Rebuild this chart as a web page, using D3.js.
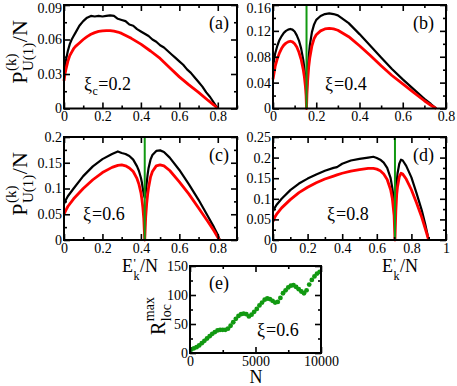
<!DOCTYPE html>
<html><head><meta charset="utf-8">
<script src="https://cdn.jsdelivr.net/npm/d3@7"></script>
<style>
body{margin:0;background:#fff;}
svg{display:block;}
</style></head>
<body>
<svg id="chart" width="457" height="386" font-family="'Times New Roman', Times, 'Liberation Serif', 'DejaVu Serif', serif"></svg>
<script>
const FONT = "'Times New Roman', Times, 'Liberation Serif', 'DejaVu Serif', serif";
// ---------- DATA ----------
// Panel (a)  xi_c = 0.2
const aBlackE = [0,0.01,0.02,0.03,0.04,0.05,0.06,0.08,0.1,0.12,0.14,0.16,0.18,0.2,0.22,0.24,0.26,0.28,0.3,0.32,0.34,0.36,0.38,0.4,0.42,0.44,0.46,0.48,0.5,0.52,0.54,0.56,0.58,0.6,0.62,0.64,0.66,0.68,0.7,0.72,0.74,0.76,0.78,0.8];
const aBlackP = [0.03,0.042,0.05,0.056,0.06,0.063,0.066,0.072,0.076,0.079,0.0805,0.080,0.0805,0.080,0.0805,0.081,0.0805,0.078,0.077,0.076,0.073,0.072,0.069,0.067,0.065,0.063,0.060,0.058,0.055,0.053,0.050,0.047,0.044,0.041,0.038,0.034,0.031,0.027,0.023,0.019,0.014,0.010,0.005,0];
const aRedE = [0,0.005,0.01,0.02,0.03,0.04,0.05,0.06,0.08,0.1,0.12,0.14,0.16,0.18,0.2,0.22,0.24,0.26,0.28,0.3,0.35,0.4,0.45,0.5,0.55,0.6,0.65,0.7,0.75,0.78,0.8];
const aRedP = [0.024,0.03,0.034,0.041,0.046,0.049,0.052,0.054,0.057,0.060,0.0625,0.0645,0.066,0.067,0.0675,0.0678,0.0678,0.0672,0.0665,0.0653,0.061,0.056,0.050,0.0435,0.0355,0.0275,0.0205,0.014,0.007,0.003,0];
// Panel (b)  xi = 0.4
const bE = [0,0.01,0.02,0.03,0.04,0.05,0.06,0.07,0.08,0.09,0.1,0.11,0.12,0.13,0.14,0.145,0.15,0.153,0.155,0.157,0.16,0.165,0.17,0.18,0.19,0.2,0.22,0.24,0.26,0.28,0.3,0.35,0.4,0.45,0.5,0.55,0.6,0.65,0.7,0.73,0.755];
const bBlackP = [0.065,0.085,0.097,0.106,0.112,0.117,0.12,0.122,0.123,0.122,0.119,0.113,0.105,0.093,0.075,0.062,0.045,0.028,0.005,0.03,0.055,0.08,0.097,0.118,0.13,0.137,0.143,0.146,0.147,0.146,0.144,0.132,0.115,0.097,0.079,0.061,0.045,0.03,0.015,0.007,0];
const bRedP = [0.045,0.065,0.077,0.086,0.093,0.098,0.101,0.103,0.104,0.103,0.1,0.095,0.087,0.076,0.06,0.049,0.034,0.02,0,0.022,0.042,0.064,0.078,0.097,0.108,0.114,0.12,0.123,0.124,0.123,0.121,0.111,0.097,0.082,0.066,0.051,0.038,0.025,0.012,0.005,0];
// Panel (c)  xi = 0.6
const cE = [0,0.01,0.02,0.05,0.1,0.15,0.2,0.25,0.28,0.3,0.32,0.34,0.36,0.38,0.39,0.4,0.405,0.41,0.415,0.42,0.425,0.43,0.435,0.44,0.45,0.46,0.48,0.5,0.52,0.55,0.6,0.65,0.7,0.75,0.78,0.8,0.81];
const cBlackP = [0.07,0.078,0.085,0.1,0.124,0.143,0.157,0.167,0.172,0.169,0.167,0.163,0.156,0.143,0.134,0.121,0.112,0.1,0.088,0.082,0.092,0.11,0.127,0.14,0.156,0.165,0.173,0.174,0.171,0.16,0.136,0.108,0.078,0.045,0.025,0.01,0];
const cRedP = [0.05,0.058,0.065,0.08,0.1,0.117,0.131,0.141,0.145,0.146,0.144,0.14,0.133,0.119,0.108,0.092,0.08,0.064,0.042,0,0.045,0.07,0.088,0.102,0.122,0.133,0.144,0.146,0.144,0.135,0.113,0.089,0.062,0.035,0.018,0.005,0];
// Panel (d)  xi = 0.8
const dE = [0,0.01,0.02,0.05,0.1,0.15,0.2,0.25,0.3,0.35,0.37,0.4,0.45,0.5,0.55,0.58,0.6,0.62,0.64,0.66,0.68,0.69,0.7,0.705,0.71,0.715,0.72,0.73,0.74,0.75,0.77,0.8,0.83,0.86,0.88,0.9];
const dBlackP = [0.07,0.078,0.085,0.1,0.121,0.137,0.149,0.159,0.168,0.175,0.177,0.185,0.193,0.197,0.2,0.202,0.199,0.195,0.188,0.175,0.15,0.125,0.095,0.08,0.11,0.14,0.162,0.185,0.195,0.193,0.18,0.152,0.113,0.072,0.038,0];
const dRedP = [0.045,0.055,0.062,0.078,0.098,0.115,0.128,0.139,0.148,0.155,0.158,0.162,0.167,0.171,0.174,0.174,0.172,0.168,0.16,0.147,0.122,0.1,0.06,0,0.07,0.11,0.13,0.153,0.162,0.16,0.148,0.122,0.09,0.055,0.028,0];
// Panel (e)  R_loc^max vs N, xi = 0.6
const eN = [100,300,500,700,900,1100,1300,1500,1700,1900,2100,2300,2500,2700,2900,3100,3300,3500,3700,3900,4100,4300,4500,4700,4900,5100,5300,5500,5700,5900,6100,6300,6500,6700,6900,7100,7300,7500,7700,7900,8100,8300,8500,8700,8900,9100,9300,9500,9700,9900];
const eR = [6,8,10,13,17,21,25,29,33,36,39,40,40,40,42,47,53,59,64,67,68,67,63,66,71,76,82,87,92,94,93,90,87,88,95,103,108,113,116,117,114,110,106,103,108,118,126,132,137,140];
// Critical energies (green lines)
const bCrit = 0.155, cCrit = 0.42, dCrit = 0.705;
// Tick values
const aXTicks = [0,0.2,0.4,0.6,0.8], aXMinor = [0.1,0.3,0.5,0.7,0.9];
const aYTicks = [0,0.03,0.06,0.09], aYMinor = [0.015,0.045,0.075];
const bXTicks = [0,0.2,0.4,0.6,0.8], bXMinor = [0.1,0.3,0.5,0.7];
const bYTicks = [0,0.04,0.08,0.12,0.16], bYMinor = [0.02,0.06,0.1,0.14];
const cXTicks = aXTicks, cXMinor = aXMinor;
const cYTicks = [0,0.05,0.1,0.15,0.2], cYMinor = [0.025,0.075,0.125,0.175];
const dXTicks = [0,0.2,0.4,0.6,0.8,1], dXMinor = [0.1,0.3,0.5,0.7,0.9];
const dYTicks = [0,0.05,0.1,0.15,0.2,0.25], dYMinor = [0.025,0.075,0.125,0.175,0.225];
const eXTicks = [0,5000,10000], eXMinor = [2500,7500];
const eYTicks = [0,50,100,150], eYMinor = [25,75,125];

// ---------- DRAW ----------
const svg = d3.select("#chart");
const GREEN = "#119911";

function panel(o){
  const x = d3.scaleLinear().domain(o.xd).range([o.l,o.r]);
  const y = d3.scaleLinear().domain(o.yd).range([o.b,o.t]);
  const g = svg.append("g");
  const line = d3.line().x(d=>x(d[0])).y(d=>y(d[1]));
  (o.series||[]).forEach(s=>{
    g.append("path").datum(d3.zip(s.x,s.y)).attr("d",line)
      .attr("fill","none").attr("stroke",s.color).attr("stroke-width",s.w)
      .attr("stroke-linejoin","round");
  });
  if(o.dots){
    g.selectAll("circle.dot").data(d3.zip(o.dots.x,o.dots.y)).join("circle")
      .attr("cx",d=>x(d[0])).attr("cy",d=>y(d[1])).attr("r",2.4).attr("fill",GREEN);
  }
  if(o.crit!==undefined){
    g.append("line").attr("x1",x(o.crit)).attr("x2",x(o.crit))
      .attr("y1",y(o.yd[0])).attr("y2",y(o.yd[1]))
      .attr("stroke",GREEN).attr("stroke-width",2);
  }
  const fmt = d=>String(d);
  const style = (sel)=>{sel.select(".domain").remove();
    sel.attr("font-family",FONT).attr("font-size",14);
    sel.selectAll("line").attr("stroke","#000").attr("stroke-width",1.6);
    sel.selectAll("text").attr("fill","#000");};
  g.append("g").attr("transform",`translate(0,${o.b})`)
    .call(d3.axisBottom(x).tickValues(o.xt).tickFormat(fmt).tickSize(-6).tickPadding(3)).call(style);
  const yl = g.append("g").attr("transform",`translate(${o.l},0)`)
    .call(d3.axisLeft(y).tickValues(o.yt).tickFormat(fmt).tickSize(-6).tickPadding(2)).call(style);
  yl.selectAll(".tick text").filter(d=>d===o.yd[1] && o.t<10).attr("dy","0.5em");
  g.append("g").attr("transform",`translate(0,${o.t})`)
    .call(d3.axisTop(x).tickValues(o.xt).tickFormat("").tickSize(-6)).call(style);
  g.append("g").attr("transform",`translate(${o.r},0)`)
    .call(d3.axisRight(y).tickValues(o.yt).tickFormat("").tickSize(-6)).call(style);
  g.append("g").attr("transform",`translate(0,${o.b})`)
    .call(d3.axisBottom(x).tickValues(o.xm).tickFormat("").tickSize(-3)).call(style);
  g.append("g").attr("transform",`translate(${o.l},0)`)
    .call(d3.axisLeft(y).tickValues(o.ym).tickFormat("").tickSize(-3)).call(style);
  g.append("g").attr("transform",`translate(0,${o.t})`)
    .call(d3.axisTop(x).tickValues(o.xm).tickFormat("").tickSize(-3)).call(style);
  g.append("g").attr("transform",`translate(${o.r},0)`)
    .call(d3.axisRight(y).tickValues(o.ym).tickFormat("").tickSize(-3)).call(style);
  g.selectAll(".tick text").filter(function(){return this.textContent==="";}).remove();
  g.append("rect").attr("x",o.l).attr("y",o.t).attr("width",o.r-o.l).attr("height",o.b-o.t)
    .attr("fill","none").attr("stroke","#000").attr("stroke-width",2);
  g.append("text").attr("x",o.tag[1]).attr("y",o.tag[2]).attr("text-anchor","end")
    .attr("font-size",18).text(o.tag[0]);
  return {x,y,g};
}

function stackText(parent, fs, sfs, main, sup, sub, tail, supShift, subShift, supFs){
  const g = parent.append("g");
  const t1 = g.append("text").attr("font-size",fs).text(main);
  const w1 = t1.node().getComputedTextLength();
  let w2 = 0;
  if(sup){const t=g.append("text").attr("x",w1+0.5).attr("y",supShift).attr("font-size",supFs||sfs).text(sup); w2=Math.max(w2,t.node().getComputedTextLength());}
  if(sub){const t=g.append("text").attr("x",w1+0.5).attr("y",subShift).attr("font-size",sfs).text(sub); w2=Math.max(w2,t.node().getComputedTextLength());}
  let total = w1+0.5+w2;
  if(tail){const t=g.append("text").attr("x",total+0.5).attr("font-size",fs).text(tail); total += 0.5+t.node().getComputedTextLength();}
  return {g,total};
}
function placeH(parent, cx, by, ...args){
  const s = stackText(parent, ...args);
  s.g.attr("transform",`translate(${cx - s.total/2},${by})`);
}
function placeV(parent, bx, cy, ...args){
  const s = stackText(parent, ...args);
  s.g.attr("transform",`translate(${bx},${cy + s.total/2}) rotate(-90)`);
}
function placeL(parent, lx, by, ...args){
  const s = stackText(parent, ...args);
  s.g.attr("transform",`translate(${lx},${by})`);
}

panel({l:64,r:237,t:5,b:108.5,xd:[0,0.9],yd:[0,0.09],xt:aXTicks,xm:aXMinor,yt:aYTicks,ym:aYMinor,
  series:[{x:aBlackE,y:aBlackP,color:"#000",w:2.2},{x:aRedE,y:aRedP,color:"#ff0000",w:2.8}],tag:["(a)",229,29]});
panel({l:273,r:446,t:5,b:108.5,xd:[0,0.8],yd:[0,0.16],xt:bXTicks,xm:bXMinor,yt:bYTicks,ym:bYMinor,
  series:[{x:bE,y:bBlackP,color:"#000",w:2.2},{x:bE,y:bRedP,color:"#ff0000",w:2.8}],crit:bCrit,tag:["(b)",434,29]});
panel({l:64,r:237,t:137,b:240,xd:[0,0.9],yd:[0,0.2],xt:cXTicks,xm:cXMinor,yt:cYTicks,ym:cYMinor,
  series:[{x:cE,y:cBlackP,color:"#000",w:2.2},{x:cE,y:cRedP,color:"#ff0000",w:2.8}],crit:cCrit,tag:["(c)",229,161]});
panel({l:273,r:446,t:137,b:240,xd:[0,1],yd:[0,0.25],xt:dXTicks,xm:dXMinor,yt:dYTicks,ym:dYMinor,
  series:[{x:dE,y:dBlackP,color:"#000",w:2.2},{x:dE,y:dRedP,color:"#ff0000",w:2.8}],crit:dCrit,tag:["(d)",434,161]});
panel({l:190,r:321,t:266,b:353,xd:[0,10000],yd:[0,150],xt:eXTicks,xm:eXMinor,yt:eYTicks,ym:eYMinor,
  dots:{x:eN,y:eR},tag:["(e)",229,289]});

placeL(svg, 84, 90, 18, 12, "ξ", null, "c", "=0.2", 0, 5);
placeL(svg, 325, 90, 18, 12, "ξ", null, null, "=0.4", 0, 5);
placeL(svg, 83, 220, 18, 12, "ξ", null, null, "=0.6", 0, 5);
placeL(svg, 327, 220, 18, 12, "ξ", null, null, "=0.8", 0, 5);
placeL(svg, 257, 336, 18, 12, "ξ", null, null, "=0.6", 0, 5);

placeV(svg, 27, 52, 22, 15, "P", "(k)", "U(1)", "/N", -11, 6);
placeV(svg, 27, 184, 22, 15, "P", "(k)", "U(1)", "/N", -11, 6);
placeV(svg, 165, 316, 20, 14, "R", "max", "loc", "", -11, 6);
placeH(svg, 140, 272, 18, 12, "E", "'", "k", "/N", -5, 8, 13);
placeH(svg, 400, 272, 18, 12, "E", "'", "k", "/N", -5, 8, 13);
svg.append("text").attr("x",256).attr("y",383).attr("text-anchor","middle").attr("font-size",18).text("N");
</script>
</body></html>
